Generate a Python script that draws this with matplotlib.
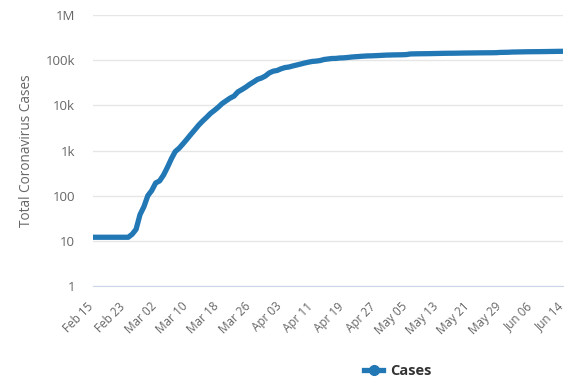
import matplotlib
matplotlib.use("Agg")
import matplotlib.pyplot as plt
from matplotlib.lines import Line2D
from matplotlib.transforms import ScaledTranslation
import datetime as dt

start = dt.date(2020, 2, 15)
cases = [
    12, 12, 12, 12, 12, 12, 12, 12, 12, 12,          # Feb 15 - Feb 24
    14, 18, 38, 57, 100,                            # Feb 25 - Feb 29
    130, 191, 212, 285, 423, 653, 949, 1126, 1412, 1784,
    2281, 2876, 3661, 4499, 5423, 6633, 7730, 9134, 10995, 12612,
    14459, 16018, 19856, 22302, 25233, 29155, 32964, 37575, 40174, 44550,
    52128,                                          # Mar 31
    56989, 59105, 64338, 68605, 70478, 74390, 78167, 82048, 86334, 90276,
    93790, 95403, 98076, 103573, 106206, 108847, 109252, 111821, 112606, 114657,
    117324, 119151, 120804, 122577, 124114, 124575, 125770, 126835, 128339, 129581,
    130185, 130979, 131287, 131863, 132967, 137150, 137779, 138421, 138854, 139063,
    139519, 140227, 140734, 141356, 141919, 142291, 142411, 142903, 143427, 143845,
    144163, 144556, 144921, 145279, 145555, 145746, 146000, 146500, 148500, 149000,
    149600,                                         # May 31
    151300, 151700, 152400, 153000, 153600, 153900, 154200, 154400, 154900, 155300,
    155900, 156300, 156800, 157200,                 # Jun 14
]
dates = [start + dt.timedelta(days=i) for i in range(len(cases))]
tick_idx = list(range(0, len(cases), 8))
tick_labels = [dates[i].strftime("%b %d") for i in tick_idx]
y_ticks = [1, 10, 100, 1000, 10000, 100000, 1000000]
y_labels = ["1", "10", "100", "1k", "10k", "100k", "1M"]

plt.rcParams['font.family'] = ['Open Sans', 'DejaVu Sans']

fig = plt.figure(figsize=(5.68, 3.81), dpi=100)
ax = fig.add_axes([93/568, 1-286/381, (563-93)/568, (286-15)/381])

color = "#2277b5"
ax.plot(range(len(cases)), cases, color=color, lw=3.8, solid_capstyle='butt', solid_joinstyle='round')
ax.set_yscale('log')
ax.set_ylim(1, 1e6)
ax.set_xlim(0, len(cases) - 1)
ax.set_yticks(y_ticks)
ax.set_yticklabels(y_labels)
ax.minorticks_off()
ax.set_xticks(tick_idx)
ax.set_xticklabels([])
offset = ScaledTranslation(-6/100, -14/100, fig.dpi_scale_trans)
for i, lab in zip(tick_idx, tick_labels):
    ax.text(i, 0, lab, transform=ax.get_xaxis_transform() + offset,
            rotation=45, ha='right', va='top', rotation_mode='anchor',
            fontsize=8.5, color='#666666', clip_on=False)
ax.grid(axis='y', color='#e6e6e6', lw=1)
ax.set_axisbelow(True)
for s in ['top', 'right', 'left']:
    ax.spines[s].set_visible(False)
ax.spines['bottom'].set_color('#ccd6eb')
ax.tick_params(axis='y', length=0, pad=13, labelsize=9.5, labelcolor='#666666')
ax.tick_params(axis='x', length=0)
ax.set_ylabel("Total Coronavirus Cases", fontsize=9.8, color='#666666', labelpad=8)

handle = Line2D([0], [0], color=color, lw=3.8, marker='o', markersize=7)
fig.legend([handle], ["Cases"], loc='center', bbox_to_anchor=(398/568, 1-371/381),
           frameon=False, prop={'weight': 'bold', 'size': 10.5}, labelcolor='#333333',
           handlelength=1.3, handletextpad=0.5)

fig.savefig("out.png", dpi=100, facecolor='white')
